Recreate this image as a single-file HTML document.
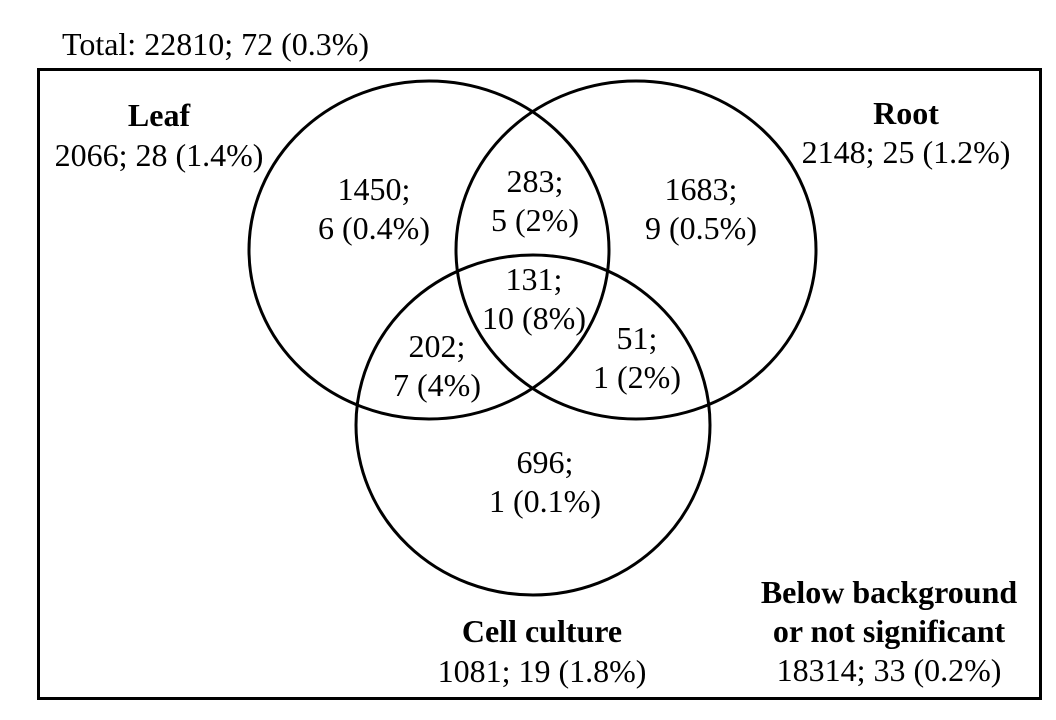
<!DOCTYPE html>
<html><head><meta charset="utf-8"><style>
html,body{margin:0;padding:0;background:#fff;}
svg{display:block;}
text{font-family:"Liberation Serif",serif;font-size:32px;fill:#000;}
.b{font-weight:bold;}
</style></head><body>
<svg id="chart" width="1056" height="720" viewBox="0 0 1056 720">
<text x="62" y="55">Total: 22810; 72 (0.3%)</text>
<rect x="38.5" y="69.5" width="1002" height="629" fill="none" stroke="#000" stroke-width="3"/>
<g id="circles"></g>
<g id="labels"></g>
</svg>
<script>
const setNames = ["Leaf", "Root", "Cell culture"];
const setTotals = ["2066; 28 (1.4%)", "2148; 25 (1.2%)", "1081; 19 (1.8%)"];
const regionCounts = ["1450;", "283;", "1683;", "131;", "202;", "51;", "696;"];
const regionHits = ["6 (0.4%)", "5 (2%)", "9 (0.5%)", "10 (8%)", "7 (4%)", "1 (2%)", "1 (0.1%)"];
const outsideLabel = ["Below background", "or not significant", "18314; 33 (0.2%)"];

const NS = "http://www.w3.org/2000/svg";
const circleGeom = [[429,250,180,169],[636,250,180,169],[533,425,177,170]];
const regionPos = [[374,200],[535,192],[701,200],[534,290],[437,357],[637,349],[545,473]];
const titlePos = [[159,126,166],[906,124,163],[542,642,682]];

function mk(tag, attrs, parent){const e=document.createElementNS(NS,tag);for(const k in attrs)e.setAttribute(k,attrs[k]);parent.appendChild(e);return e;}
const cg=document.getElementById('circles'), lg=document.getElementById('labels');
circleGeom.forEach((c,i)=>{
  const e=mk('ellipse',{cx:c[0],cy:c[1],rx:c[2],ry:c[3],fill:'none',stroke:'#000','stroke-width':3},cg);
  
  
});
setNames.forEach((n,i)=>{
  const p=titlePos[i];
  const t=mk('text',{x:p[0],y:p[1],'text-anchor':'middle',class:'b'},lg);t.textContent=n;
  
  
  const s=mk('text',{x:p[0],y:p[2],'text-anchor':'middle'},lg);s.textContent=setTotals[i];
  
  
});
regionCounts.forEach((c,i)=>{
  const p=regionPos[i];
  const t=mk('text',{x:p[0],y:p[1],'text-anchor':'middle'},lg);t.textContent=c;
  
  
  const h=mk('text',{x:p[0],y:p[1]+39,'text-anchor':'middle'},lg);h.textContent=regionHits[i];
  
  
});
outsideLabel.forEach((s,i)=>{
  const t=mk('text',{x:889,y:603+i*39,'text-anchor':'middle',class:i<2?'b':''},lg);t.textContent=s;
  
  
});
</script>
</body></html>
